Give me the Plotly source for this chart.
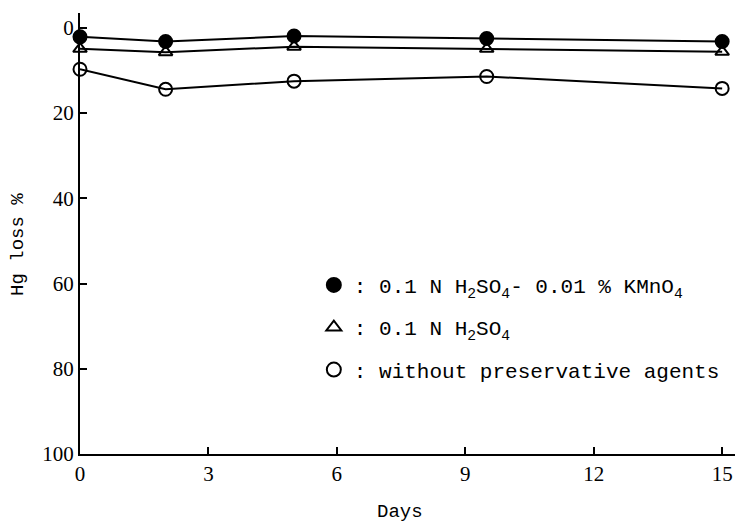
import plotly.graph_objects as go

days = [0, 2, 5, 9.5, 15]
kmno4 = [2.1, 3.2, 1.9, 2.5, 3.2]
h2so4 = [4.9, 5.7, 4.4, 4.9, 5.6]
none_ = [9.7, 14.4, 12.5, 11.4, 14.2]

x_ticks = [0, 3, 6, 9, 12, 15]
y_ticks = [0, 20, 40, 60, 80, 100]

labels = [
    ": 0.1 N H<sub>2</sub>SO<sub>4</sub>- 0.01 % KMnO<sub>4</sub>",
    ": 0.1 N H<sub>2</sub>SO<sub>4</sub>",
    ": without preservative agents",
]

fig = go.Figure()
series = [
    (kmno4, "circle", 13),
    (h2so4, "triangle-up-open", 12),
    (none_, "circle-open", 13),
]
for vals, sym, size in series:
    fig.add_trace(go.Scatter(
        x=days, y=vals, mode="lines+markers",
        line=dict(color="black", width=2),
        marker=dict(symbol=sym, size=size, color="black",
                    line=dict(color="black", width=2)),
        showlegend=False, cliponaxis=False,
    ))
for (vals, sym, size), lab in zip(series, labels):
    fig.add_trace(go.Scatter(
        x=[None], y=[None], mode="markers", name=lab,
        marker=dict(symbol=sym, size=size + 1, color="black",
                    line=dict(color="black", width=2)),
        legendgroup=lab,
    ))

fig.update_layout(
    width=735, height=525,
    margin=dict(l=80, r=0, t=13, b=71),
    paper_bgcolor="white", plot_bgcolor="white",
    font=dict(family="Liberation Serif", color="black", size=21),
    legend=dict(
        x=0.357, y=0.429, xanchor="left", yanchor="top",
        font=dict(family="Liberation Mono", size=21, color="black"),
        tracegroupgap=12, bgcolor="rgba(0,0,0,0)", itemwidth=30,
    ),
    xaxis=dict(
        range=[0, 15.3], tickvals=x_ticks, ticktext=[str(v) for v in x_ticks],
        ticks="inside", ticklen=7, tickwidth=1.5, tickcolor="black",
        showline=True, linecolor="black", linewidth=2, showgrid=False, zeroline=False,
        automargin=False,
    ),
    yaxis=dict(
        range=[100, -3.5], tickvals=y_ticks, ticktext=[str(v) for v in y_ticks],
        ticks="inside", ticklen=7, tickwidth=1.5, tickcolor="black",
        showline=True, linecolor="black", linewidth=2, showgrid=False, zeroline=False,
        automargin=False,
    ),
    annotations=[
        dict(text="Days", xref="paper", yref="paper", x=0.489, y=0, yshift=-58,
             xanchor="center", yanchor="middle", showarrow=False,
             font=dict(family="Liberation Mono", size=19)),
        dict(text="Hg loss %", xref="paper", yref="paper", x=0, xshift=-62, y=0.474,
             xanchor="center", yanchor="middle", textangle=-90, showarrow=False,
             font=dict(family="Liberation Mono", size=19)),
    ],
)

# remove the browser's default body margin so the figure fills the window exactly
fig.write_html(
    "out.html",
    config={"displayModeBar": False},
    post_script="document.body.style.margin='0';document.body.style.overflow='hidden';",
)
